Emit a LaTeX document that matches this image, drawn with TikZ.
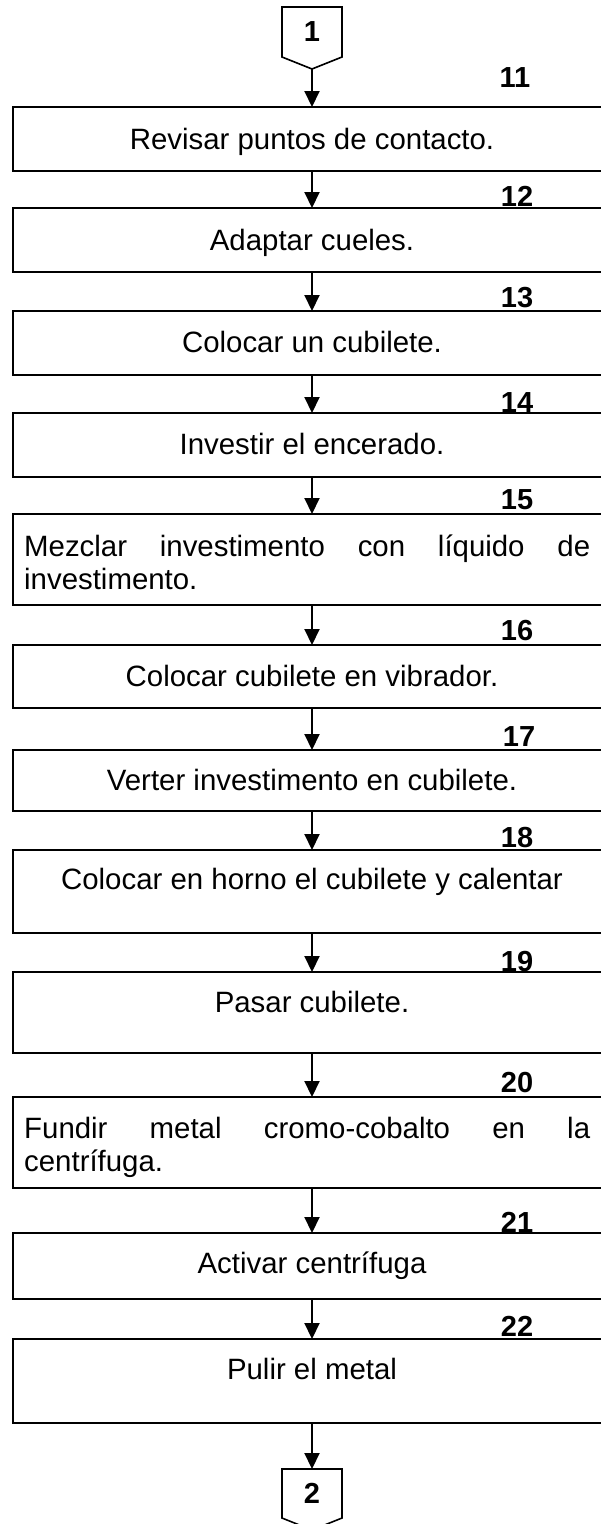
\documentclass[tikz,border=0pt]{standalone}
\usepackage{fontspec}
\setmainfont{Liberation Sans}
\usetikzlibrary{arrows.meta,calc}
\begin{document}
\begin{tikzpicture}[x=1pt,y=-1pt,
  box/.style={draw,line width=2pt,minimum width=598pt,inner sep=0pt,outer sep=0pt},
  txt/.style={font=\fontsize{29.4}{33}\selectfont,inner sep=0pt,anchor=base},
  jtxt/.style={font=\fontsize{29.4}{33}\selectfont,inner sep=0pt,anchor=base west,text width=566pt,align=left},
  num/.style={font=\fontsize{29}{33}\selectfont\bfseries,inner sep=0pt},
  conn/.style={minimum width=60pt,inner sep=0pt,outer sep=0pt,font=\fontsize{29}{33}\selectfont\bfseries},
  connline/.style={line width=1.6pt,line join=miter},
  arr/.style={line width=2pt,-{Triangle[width=15pt,length=16pt]}}
]
\useasboundingbox (0,0) rectangle (601,1524);
\clip (0,0) rectangle (601,1524);

% off-page connectors
\node[conn,minimum height=50pt] (c1) at (312,32) {1};
\coordinate (c1tip) at (312,69);
\draw[connline] (c1.north west) -- (c1.north east) -- (c1.south east) -- (c1tip) -- (c1.south west) -- cycle;

\node[conn,minimum height=49pt] (c2) at (312,1493.5) {2};
\coordinate (c2tip) at (312,1530);
\draw[connline] (c2.north west) -- (c2.north east) -- (c2.south east) -- (c2tip) -- (c2.south west) -- cycle;

% boxes
\node[box,minimum height=64pt] (b11) at (312,139) {};
\node[box,minimum height=64pt] (b12) at (312,240) {};
\node[box,minimum height=64pt] (b13) at (312,343) {};
\node[box,minimum height=64pt] (b14) at (312,445) {};
\node[box,minimum height=91pt] (b15) at (312,559.5) {};
\node[box,minimum height=63pt] (b16) at (312,676.5) {};
\node[box,minimum height=61pt] (b17) at (312,780.5) {};
\node[box,minimum height=83pt] (b18) at (312,891.5) {};
\node[box,minimum height=81pt] (b19) at (312,1012.5) {};
\node[box,minimum height=91pt] (b20) at (312,1142.5) {};
\node[box,minimum height=66pt] (b21) at (312,1266) {};
\node[box,minimum height=84pt] (b22) at (312,1381) {};

% texts
\node[txt] (t11) at (312,149) {Revisar puntos de contacto.};
\node[txt] (t12) at (312,250) {Adaptar cueles.};
\node[txt] (t13) at (312,352) {Colocar un cubilete.};
\node[txt] (t14) at (312,454) {Investir el encerado.};
\node[jtxt] (t15) at (24,556) {\hbox to 566pt{Mezclar\hfill investimento\hfill con\hfill líquido\hfill de}\\investimento.};
\node[txt] (t16) at (312,686) {Colocar cubilete en vibrador.};
\node[txt] (t17) at (312,790) {Verter investimento en cubilete.};
\node[txt] (t18) at (312,889) {Colocar en horno el cubilete y calentar};
\node[txt] (t19) at (312,1012) {Pasar cubilete.};
\node[jtxt] (t20) at (24,1138) {\hbox to 566pt{Fundir\hfill metal\hfill cromo-cobalto\hfill en\hfill la}\\centrífuga.};
\node[txt] (t21) at (312,1273) {Activar centrífuga};
\node[txt] (t22) at (312,1379) {Pulir el metal};

% step numbers
\node[num] (n11) at (515,78) {11};
\node[num] (n12) at (517,196) {12};
\node[num] (n13) at (517,298) {13};
\node[num] (n14) at (517,403) {14};
\node[num] (n15) at (517,500) {15};
\node[num] (n16) at (517,631) {16};
\node[num] (n17) at (519,737) {17};
\node[num] (n18) at (517,838) {18};
\node[num] (n19) at (517,962) {19};
\node[num] (n20) at (517,1083) {20};
\node[num] (n21) at (517,1222) {21};
\node[num] (n22) at (517,1326) {22};

% arrows
\draw[arr] (c1tip) -- (b11.north);
\draw[arr] (b11.south) -- (b12.north);
\draw[arr] (b12.south) -- (b13.north);
\draw[arr] (b13.south) -- (b14.north);
\draw[arr] (b14.south) -- (b15.north);
\draw[arr] (b15.south) -- (b16.north);
\draw[arr] (b16.south) -- (b17.north);
\draw[arr] (b17.south) -- (b18.north);
\draw[arr] (b18.south) -- (b19.north);
\draw[arr] (b19.south) -- (b20.north);
\draw[arr] (b20.south) -- (b21.north);
\draw[arr] (b21.south) -- (b22.north);
\draw[arr] (b22.south) -- (c2.north);
\end{tikzpicture}
\end{document}
